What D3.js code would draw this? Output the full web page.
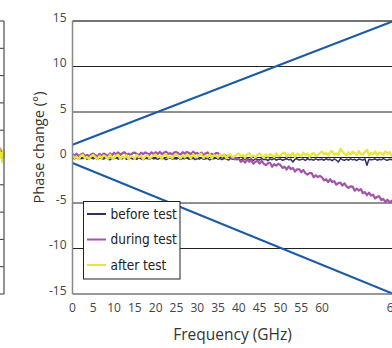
<!DOCTYPE html>
<html>
<head>
<meta charset="utf-8">
<script src="https://cdn.jsdelivr.net/npm/d3@7"></script>
<style>
    body { margin: 0; background: #fff; }
    svg { display: block; font-family: "Open Sans", sans-serif; }
</style>
</head>
<body>
<div id="chart"></div>
<script>
// phase drift of the DUT before / during / after the stress test
var xTickValues = [0, 5, 10, 15, 20, 25, 30, 35, 40, 45, 50, 55, 60, 67];
var yTickValues = [-15, -10, -5, 0, 5, 10, 15];
var gridValues = [-10, -5, 0, 5, 10];

// sweep points: 0.5 GHz up to 60 GHz, 0.2 GHz above
var freqs = d3.range(0, 120).map(function (i) { return i * 0.5; })
    .concat(d3.range(0, 36).map(function (i) { return +(60 + i * 0.2).toFixed(1); }));

var beforeTest = [
    -0.05, -0.15, 0.02, -0.2, -0.08, -0.12, 0.05, -0.18, -0.1, -0.02,
    -0.14, -0.06, -0.22, -0.03, -0.12, -0.17, 0.0, -0.1, -0.25, -0.08,
    -0.12, -0.04, -0.18, -0.09, -0.15, -0.02, -0.2, -0.11, -0.06, -0.16,
    -0.08, -0.19, -0.05, -0.13, -0.22, -0.07, -0.1, -0.17, -0.03, -0.14,
    -0.1, -0.2, -0.06, -0.15, -0.09, -0.24, -0.12, -0.04, -0.18, -0.11,
    -0.16, -0.07, -0.21, -0.1, -0.13, -0.03, -0.19, -0.12, -0.08, -0.23,
    -0.11, -0.17, -0.05, -0.2, -0.14, -0.09, -0.26, -0.1, -0.15, -0.06,
    -0.18, -0.12, -0.22, -0.08, -0.16, -0.28, -0.1, -0.19, -0.13, -0.24,
    -0.15, -0.3, -0.12, -0.2, -0.09, -0.25, -0.17, -0.33, -0.14, -0.21,
    -0.27, -0.12, -0.22, -0.18, -0.35, -0.15, -0.24, -0.1, -0.29, -0.2,
    -0.16, -0.31, -0.22, -0.13, -0.26, -0.19, -0.5, -0.2, -0.14, -0.28,
    -0.22, -0.17, -0.33, -0.12, -0.25, -0.2, -0.3, -0.15, -0.27, -0.21,
    -0.18, -0.3, -0.14, -0.25, -0.2, -0.35, -0.16, -0.28, -0.5, -0.12,
    -0.24, -0.3, -0.18, -0.3, -0.15, -0.26, -0.2, -0.33, -0.17, -0.23,
    -0.29, -0.14, -0.85, -0.2, -0.25, -0.22, -0.16, -0.3, -0.19, -0.26,
    -0.13, -0.24, -0.31, -0.18, -0.22, -0.27
];

var duringTest = [
    0.38, 0.2, 0.42, 0.16, 0.32, 0.44, 0.18, 0.28, 0.14, 0.36,
    0.42, 0.26, 0.15, 0.4, 0.24, 0.44, 0.32, 0.18, 0.45, 0.25,
    0.52, 0.34, 0.56, 0.3, 0.46, 0.58, 0.32, 0.42, 0.28, 0.5,
    0.54, 0.38, 0.27, 0.52, 0.36, 0.56, 0.44, 0.3, 0.57, 0.37,
    0.58, 0.4, 0.62, 0.36, 0.52, 0.64, 0.38, 0.48, 0.34, 0.56,
    0.6, 0.44, 0.33, 0.58, 0.42, 0.62, 0.5, 0.36, 0.63, 0.43,
    0.5, 0.32, 0.54, 0.28, 0.44, 0.56, 0.3, 0.4, 0.26, 0.48,
    0.47, 0.25, 0.15, 0.32, 0.12, 0.2, 0.04, -0.04, -0.2, -0.06,
    -0.18, -0.47, -0.29, -0.56, -0.2, -0.46, -0.33, -0.68, -0.47, -0.37,
    -0.67, -0.38, -0.7, -0.83, -0.63, -0.58, -1.01, -0.73, -0.9, -0.7,
    -0.83, -1.15, -1.0, -1.32, -0.97, -1.26, -1.16, -1.54, -1.3, -1.29,
    -1.62, -1.37, -1.72, -1.89, -1.72, -1.71, -2.18, -1.95, -2.16, -2.01,
    -2.18, -2.52, -2.38, -2.7, -2.39, -2.69, -2.6, -2.99, -2.81, -2.75,
    -3.09, -2.83, -3.18, -3.35, -3.18, -3.19, -3.65, -3.42, -3.63, -3.47,
    -3.92, -3.8, -4.13, -3.86, -4.18, -4.09, -4.5, -4.32, -4.27, -4.67,
    -4.55, -4.89, -4.64, -4.9, -4.76, -5.12
];

var afterTest = [
    0.25, -0.05, 0.1, -0.2, 0.2, 0.3, -0.1, 0.05, -0.15, 0.15,
    0.27, 0.0, -0.17, 0.17, -0.07, 0.23, 0.07, -0.13, 0.3, -0.03,
    -0.07, 0.21, 0.29, -0.15, 0.09, -0.05, 0.25, -0.19, 0.15, 0.07,
    -0.11, 0.27, 0.01, 0.19, -0.17, 0.11, 0.25, -0.09, 0.03, 0.23,
    0.32, 0.02, 0.17, -0.13, 0.27, 0.37, -0.03, 0.12, -0.08, 0.22,
    0.34, 0.07, -0.1, 0.24, 0.0, 0.3, 0.14, -0.06, 0.37, 0.04,
    0.03, 0.31, 0.39, -0.05, 0.19, 0.05, 0.35, -0.09, 0.25, 0.17,
    -0.01, 0.37, 0.11, 0.29, -0.07, 0.21, 0.35, 0.01, 0.13, 0.33,
    0.42, 0.12, 0.27, -0.03, 0.37, 0.47, 0.07, 0.22, 0.02, 0.32,
    0.44, 0.17, 0.0, 0.34, 0.1, 0.4, 0.24, 0.04, 0.47, 0.14,
    0.18, 0.46, 0.54, 0.1, 0.34, 0.2, 0.5, 0.06, 0.4, 0.32,
    0.14, 0.52, 0.26, 0.44, 0.08, 0.36, 0.5, 0.16, 0.28, 0.48,
    0.65, 0.35, 0.5, 0.2, 0.6, 0.7, 0.3, 0.45, 0.25, 0.95,
    0.67, 0.4, 0.23, 0.57, 0.33, 0.63, 0.47, 0.27, 0.7, 0.37,
    0.33, 0.61, 0.85, 0.25, 0.49, 0.35, 0.65, 0.21, 0.55, 0.47,
    0.29, 0.67, 0.41, 0.59, 0.23, 0.51
];

// tolerance lines (degrees) at 0 and 67 GHz
var limitFreqs = [0, 67];
var upperLimit = [1.4, 15];
var lowerLimit = [-0.6, -15];

// last few points of the neighbouring panel
var prevFreqs = [66.1, 66.2, 66.3, 66.4, 66.5, 66.6, 66.7, 66.8, 66.9, 67.0];
var prevDuring = [0.3, 0.6, 0.1, 0.5, 0.2, 0.7, 0.3, 0.5, 0.0, 0.4];
var prevAfter = [0.6, -0.2, 0.5, -0.3, 0.7, -0.1, 0.4, -0.4, 0.6, 0.1];
var prevGrid = [-10, -8, -6, -4, -2, 0, 2, 4, 6, 8, 10];

var seriesNames = ["before test", "during test", "after test"];
var seriesColors = ["#2e2f6b", "#a256a8", "#e9e43e"];
var seriesWidths = [1.5, 2.2, 2.3];

var width = 392, height = 348;
var svg = d3.select("#chart").append("svg")
    .attr("width", width)
    .attr("height", height);

// ---- neighbouring panel, only its right edge is inside the view
var px = d3.scaleLinear().domain([60, 67]).range([-60, 4]);
var py = d3.scaleLinear().domain([-10, 10]).range([294, 21]);

svg.selectAll(".prevGrid")
    .data(prevGrid)
    .enter()
    .append("line")
    .attr("class", "prevGrid")
    .attr("x1", px(60)).attr("x2", px(67))
    .attr("y1", function (d) { return py(d); })
    .attr("y2", function (d) { return py(d); })
    .style("stroke", "#333")
    .style("stroke-width", 1);

var prevLine = d3.line()
    .x(function (d, i) { return px(prevFreqs[i]); })
    .y(function (d) { return py(d); });

svg.append("path").datum(prevDuring).attr("d", prevLine)
    .style("fill", "none").style("stroke", seriesColors[1]).style("stroke-width", 1.6);
svg.append("path").datum(prevAfter).attr("d", prevLine)
    .style("fill", "none").style("stroke", seriesColors[2]).style("stroke-width", 2);

svg.append("line")
    .attr("x1", px(67)).attr("x2", px(67))
    .attr("y1", py(10)).attr("y2", py(-10))
    .style("stroke", "#666")
    .style("stroke-width", 1.4);

// ---- main panel
var x = d3.scaleLinear().domain([0, 60, 67]).range([72.5, 322, 393.5]);
var y = d3.scaleLinear().domain([-15, 15]).range([294, 21]);

svg.selectAll(".grid")
    .data(gridValues)
    .enter()
    .append("line")
    .attr("class", "grid")
    .attr("x1", x(0)).attr("x2", x(67))
    .attr("y1", function (d) { return y(d); })
    .attr("y2", function (d) { return y(d); })
    .style("stroke", "#222")
    .style("stroke-width", 1);

// top frame line
svg.append("line")
    .attr("x1", x(0)).attr("x2", x(67))
    .attr("y1", y(15)).attr("y2", y(15))
    .style("stroke", "#444")
    .style("stroke-width", 1.6);

var traces = [beforeTest, duringTest, afterTest];
var traceLine = d3.line()
    .x(function (d, i) { return x(freqs[i]); })
    .y(function (d) { return y(d); });

svg.selectAll(".trace")
    .data(traces)
    .enter()
    .append("path")
    .attr("class", "trace")
    .attr("d", traceLine)
    .style("fill", "none")
    .style("stroke", function (d, i) { return seriesColors[i]; })
    .style("stroke-width", function (d, i) { return seriesWidths[i]; })
    .style("stroke-linejoin", "round");

var limitLine = d3.line()
    .x(function (d, i) { return x(limitFreqs[i]); })
    .y(function (d) { return y(d); });

svg.selectAll(".limit")
    .data([upperLimit, lowerLimit])
    .enter()
    .append("path")
    .attr("class", "limit")
    .attr("d", limitLine)
    .style("fill", "none")
    .style("stroke", "#1b5aa5")
    .style("stroke-width", 2.2);

// axes lines (grey)
svg.append("line")
    .attr("x1", x(0)).attr("x2", x(0))
    .attr("y1", y(15)).attr("y2", y(-15))
    .style("stroke", "#888")
    .style("stroke-width", 1.5);
svg.append("line")
    .attr("x1", x(0)).attr("x2", x(67))
    .attr("y1", y(-15)).attr("y2", y(-15))
    .style("stroke", "#777")
    .style("stroke-width", 1.5);

svg.selectAll(".yLabel")
    .data(yTickValues)
    .enter()
    .append("text")
    .attr("class", "yLabel")
    .attr("x", 66.5)
    .attr("y", function (d) { return y(d) + 0.5; })
    .attr("text-anchor", "end")
    .style("font-size", "12px")
    .style("fill", "#444")
    .text(function (d) { return d; });

svg.selectAll(".xLabel")
    .data(xTickValues)
    .enter()
    .append("text")
    .attr("class", "xLabel")
    .attr("x", function (d) { return x(d); })
    .attr("y", 311.5)
    .attr("text-anchor", "middle")
    .style("font-size", "12px")
    .style("fill", "#444")
    .text(function (d) { return d; });

svg.append("text")
    .attr("x", 232.5)
    .attr("y", 340)
    .attr("text-anchor", "middle")
    .style("font-size", "15.5px")
    .style("fill", "#333")
    .text("Frequency (GHz)");

svg.append("text")
    .attr("transform", "translate(44,147.5) rotate(-90)")
    .attr("text-anchor", "middle")
    .style("font-size", "14.5px")
    .style("fill", "#333")
    .text("Phase change (°)");

// legend
var legend = svg.append("g").attr("transform", "translate(83.5,201.5)");
legend.append("rect")
    .attr("width", 96.5)
    .attr("height", 77.5)
    .style("fill", "#fff")
    .style("stroke", "#222")
    .style("stroke-width", 1);

var entry = legend.selectAll(".entry")
    .data(seriesNames)
    .enter()
    .append("g")
    .attr("class", "entry")
    .attr("transform", function (d, i) { return "translate(0," + (12.5 + i * 25.5) + ")"; });

entry.append("line")
    .attr("x1", 3.5).attr("x2", 22.5)
    .style("stroke", function (d, i) { return seriesColors[i]; })
    .style("stroke-width", 2);

entry.append("text")
    .attr("x", 27)
    .attr("y", 4.5)
    .style("font-family", "'Liberation Sans Narrow', 'DejaVu Sans Condensed', 'Open Sans', sans-serif")
    .style("font-size", "13.5px")
    .style("fill", "#222")
    .text(function (d) { return d; });
</script>
</body>
</html>
